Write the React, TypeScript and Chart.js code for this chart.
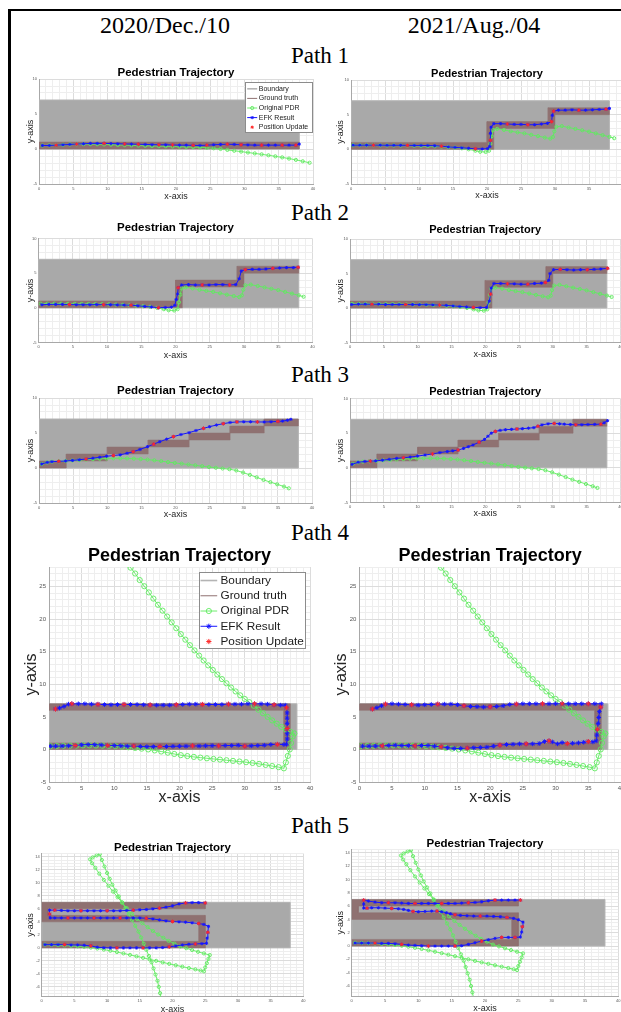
import React, { useEffect, useRef } from "react";
import { Chart, registerables } from "chart.js";

Chart.register(...registerables);
Chart.defaults.font.family = '"Liberation Sans", Arial, Helvetica, sans-serif';

type Pt = [number, number];

// ---------------- text ----------------
const DATE_LABELS = ["2020/Dec./10", "2021/Aug./04"];
const PATH_LABELS = ["Path 1", "Path 2", "Path 3", "Path 4", "Path 5"];
const CHART_TITLE = "Pedestrian Trajectory";
const X_TITLE = "x-axis";
const Y_TITLE = "y-axis";
const LEGEND_LABELS = ["Boundary", "Ground truth", "Original PDR", "EFK Result", "Position Update"];

// ---------------- axis ranges ----------------
const X_RANGE: Pt = [0, 40];
const Y_RANGE_STD: Pt = [-5, 10];
const Y_RANGE_P4: Pt = [-5, 28];
const Y_RANGE_P5: Pt = [-7.5, 14.5];

// ---------------- boundary / ground truth polygons ----------------
const BOUNDARY: Pt[] = [[0, 0], [38, 0], [38, 7], [0, 7], [0, 0]];
const GT_STRAIGHT: Pt[] = [[0, 0], [38, 0], [38, 1], [0, 1], [0, 0]];
const GT_STAIRS: Pt[] = [[0, 0], [21, 0], [21, 3], [30, 3], [30, 5], [38, 5], [38, 6], [29, 6], [29, 4], [20, 4], [20, 1], [0, 1], [0, 0]];
const GT_STEPS: Pt[] = [[0, 0], [4, 0], [4, 1], [10, 1], [10, 2], [16, 2], [16, 3], [22, 3], [22, 4], [28, 4], [28, 5], [33, 5], [33, 6], [38, 6], [38, 7], [33, 7], [33, 6], [28, 6], [28, 5], [22, 5], [22, 4], [16, 4], [16, 3], [10, 3], [10, 2], [4, 2], [4, 1], [0, 1], [0, 0]];
const GT_LOOP: Pt[] = [[0, 0], [37, 0], [37, 7], [0, 7], [0, 6], [36, 6], [36, 1], [0, 1], [0, 0]];
const GT_SNAKE: Pt[] = [[0, 7], [25, 7], [25, 6], [1, 6], [1, 5], [25, 5], [25, 0], [0, 0], [0, 1], [24, 1], [24, 4], [0, 4], [0, 7]];

// ---------------- Original PDR ----------------
const PDR_1L: Pt[] = [[0.5, 0.5], [1.5, 0.52], [2.5, 0.55], [3.5, 0.6], [4.5, 0.65], [5.5, 0.68], [6.5, 0.7], [7.5, 0.7], [8.5, 0.68], [9.5, 0.65], [10.5, 0.62], [11.5, 0.58], [12.5, 0.55], [13.5, 0.52], [14.5, 0.49], [15.5, 0.46], [16.5, 0.43], [17.5, 0.41], [18.5, 0.39], [19.5, 0.36], [20.5, 0.33], [21.5, 0.3], [22.5, 0.27], [23.5, 0.24], [24.5, 0.18], [25.5, 0.1], [26.5, 0.0], [27.5, -0.13], [28.5, -0.25], [29.5, -0.37], [30.5, -0.5], [31.5, -0.63], [32.5, -0.76], [33.5, -0.9], [34.5, -1.05], [35.5, -1.2], [36.5, -1.37], [37.5, -1.55], [38.5, -1.75], [39.5, -1.97]];
const PDR_STAIRS: Pt[] = [[0.3, 0.6], [1.3, 0.6], [2.3, 0.6], [3.3, 0.6], [4.3, 0.58], [5.3, 0.57], [6.3, 0.56], [7.3, 0.55], [8.3, 0.54], [9.3, 0.52], [10.3, 0.5], [11.3, 0.47], [12.3, 0.43], [13.3, 0.38], [14.3, 0.32], [15.3, 0.25], [16.3, 0.15], [17.3, 0.0], [18.3, -0.2], [19.0, -0.35], [19.8, -0.38], [20.3, -0.2], [20.5, 0.8], [20.7, 1.9], [20.9, 2.8], [21.5, 2.95], [22.5, 2.8], [23.5, 2.6], [24.5, 2.45], [25.5, 2.3], [26.5, 2.1], [27.5, 1.9], [28.5, 1.7], [29.3, 1.55], [29.7, 1.8], [29.9, 2.6], [30.2, 3.25], [31.0, 3.35], [32.0, 3.15], [33.0, 2.95], [34.0, 2.75], [35.0, 2.55], [36.0, 2.3], [37.0, 2.05], [38.0, 1.8], [38.7, 1.6]];
const PDR_STEPS: Pt[] = [[0.4, 0.57], [1.2, 0.8], [1.9, 0.9], [2.9, 0.95], [3.9, 1.0], [4.9, 1.07], [5.9, 1.13], [6.9, 1.2], [7.9, 1.26], [8.9, 1.32], [9.9, 1.36], [10.9, 1.38], [11.9, 1.38], [12.9, 1.37], [13.9, 1.33], [14.9, 1.27], [15.9, 1.2], [16.9, 1.1], [17.9, 0.98], [18.9, 0.85], [19.9, 0.73], [20.9, 0.62], [21.9, 0.5], [22.9, 0.38], [23.9, 0.26], [24.9, 0.14], [25.9, 0.03], [26.9, -0.07], [27.9, -0.17], [28.9, -0.35], [29.9, -0.65], [30.9, -0.98], [31.9, -1.33], [32.9, -1.7], [33.9, -2.02], [34.9, -2.33], [35.9, -2.65], [36.6, -2.9]];
const PDR_LOOP: Pt[] = [[0.2, 0.5], [1.2, 0.52], [2.2, 0.55], [3.2, 0.58], [4.2, 0.6], [5.2, 0.62], [6.2, 0.62], [7.2, 0.6], [8.2, 0.58], [9.2, 0.55], [10.2, 0.5], [11.2, 0.42], [12.2, 0.33], [13.2, 0.23], [14.2, 0.12], [15.2, 0.0], [16.2, -0.15], [17.2, -0.32], [18.2, -0.5], [19.2, -0.7], [20.2, -0.88], [21.2, -1.02], [22.2, -1.15], [23.2, -1.26], [24.2, -1.36], [25.2, -1.46], [26.2, -1.56], [27.2, -1.66], [28.2, -1.76], [29.2, -1.86], [30.2, -1.96], [31.2, -2.08], [32.2, -2.22], [33.2, -2.38], [34.2, -2.55], [35.2, -2.72], [36.0, -2.9], [36.3, -2.0], [36.6, -1.0], [36.9, 0.0], [37.1, 1.0], [37.35, 2.0], [37.6, 2.45], [37.0, 2.7], [36.3, 3.05], [35.6, 3.45], [34.9, 3.95], [34.2, 4.45], [33.5, 5.0], [32.8, 5.55], [32.1, 6.1], [31.4, 6.7], [30.7, 7.25], [30.0, 7.75], [29.3, 8.3], [28.6, 8.9], [27.9, 9.5], [27.2, 10.15], [26.5, 10.8], [25.8, 11.5], [25.1, 12.2], [24.4, 12.9], [23.7, 13.65], [23.0, 14.4], [22.3, 15.2], [21.6, 16.0], [20.9, 16.85], [20.2, 17.7], [19.5, 18.6], [18.8, 19.5], [18.1, 20.4], [17.4, 21.3], [16.7, 22.2], [16.0, 23.15], [15.3, 24.1], [14.6, 25.05], [13.9, 26.0], [13.2, 27.0], [12.5, 27.9], [12.2, 28.4]];
const PDR_SNAKE: Pt[] = [[0.5, 0.5], [1.5, 0.47], [2.5, 0.43], [3.5, 0.38], [4.5, 0.32], [5.5, 0.24], [6.5, 0.15], [7.5, 0.04], [8.5, -0.1], [9.5, -0.26], [10.5, -0.44], [11.5, -0.64], [12.5, -0.85], [13.5, -1.07], [14.5, -1.3], [15.5, -1.53], [16.5, -1.76], [17.5, -1.99], [18.5, -2.22], [19.5, -2.45], [20.5, -2.67], [21.5, -2.89], [22.5, -3.1], [23.5, -3.3], [24.3, -3.48], [24.8, -3.6], [25.0, -3.0], [25.25, -2.35], [25.5, -1.7], [25.7, -1.1], [24.8, -0.85], [23.9, -0.6], [23.0, -0.33], [22.1, -0.05], [21.2, 0.22], [20.3, 0.65], [19.4, 1.08], [18.6, 1.55], [17.8, 2.05], [17.0, 2.6], [16.2, 3.18], [15.4, 3.78], [14.6, 4.45], [13.8, 5.25], [13.0, 6.1], [12.3, 6.95], [11.6, 7.8], [10.9, 8.65], [10.2, 9.55], [9.5, 10.45], [8.8, 11.4], [8.2, 12.3], [7.7, 13.0], [7.4, 13.6], [7.8, 13.9], [8.4, 14.2], [8.9, 14.4], [9.2, 13.5], [9.6, 12.5], [10.0, 11.5], [10.4, 10.6], [10.8, 9.7], [11.3, 8.8], [11.8, 7.9], [12.3, 7.0], [12.8, 6.1], [13.3, 5.2], [13.8, 4.3], [14.3, 3.4], [14.8, 2.5], [15.2, 1.6], [15.6, 0.65], [16.0, -0.3], [16.4, -1.25], [16.8, -2.2], [17.1, -3.15], [17.4, -4.1], [17.7, -5.05], [17.9, -6.0], [18.1, -6.95], [18.3, -7.9]];

// ---------------- EFK results ----------------
const EFK_1L: Pt[] = [[0.5, 0.5], [1.5, 0.5], [2.5, 0.55], [3.5, 0.6], [4.5, 0.65], [5.5, 0.7], [6.5, 0.75], [7.5, 0.8], [8.5, 0.8], [9.5, 0.8], [10.5, 0.78], [11.5, 0.75], [12.5, 0.72], [13.5, 0.7], [14.5, 0.68], [15.5, 0.65], [16.5, 0.62], [17.5, 0.6], [18.5, 0.6], [19.5, 0.58], [20.5, 0.55], [21.5, 0.55], [22.5, 0.52], [23.5, 0.5], [24.5, 0.55], [25.5, 0.6], [26.5, 0.65], [27.5, 0.68], [28.5, 0.65], [29.5, 0.6], [30.5, 0.58], [31.5, 0.55], [32.5, 0.55], [33.5, 0.55], [34.5, 0.55], [35.5, 0.55], [36.5, 0.55], [37.5, 0.55], [38, 0.7]];
const EFK_1R: Pt[] = [[0.3, 0.6], [1.3, 0.6], [2.3, 0.6], [3.3, 0.6], [4.3, 0.6], [5.3, 0.58], [6.3, 0.58], [7.3, 0.58], [8.3, 0.57], [9.3, 0.56], [10.3, 0.56], [11.3, 0.55], [12.3, 0.52], [13.3, 0.45], [14.3, 0.35], [15.3, 0.28], [16.3, 0.22], [17.3, 0.15], [18.3, 0.08], [19.3, 0.05], [20.1, 0.1], [20.4, 0.4], [20.5, 1.3], [20.5, 2.3], [20.6, 3.2], [21.0, 3.7], [22.0, 3.7], [23.0, 3.65], [24.0, 3.6], [25.0, 3.6], [26.0, 3.55], [27.0, 3.55], [28.0, 3.65], [28.9, 3.75], [29.5, 4.0], [29.6, 4.9], [29.8, 5.5], [30.5, 5.65], [31.5, 5.65], [32.5, 5.7], [33.5, 5.65], [34.5, 5.65], [35.5, 5.7], [36.5, 5.75], [37.5, 5.8], [38, 5.9]];
const EFK_2L: Pt[] = [[0.5, 0.45], [1.5, 0.5], [2.5, 0.5], [3.5, 0.5], [4.5, 0.48], [5.5, 0.45], [6.5, 0.45], [7.5, 0.45], [8.5, 0.47], [9.5, 0.45], [10.5, 0.45], [11.5, 0.42], [12.5, 0.4], [13.5, 0.38], [14.5, 0.3], [15.5, 0.2], [16.5, 0.12], [17.5, 0.02], [18.5, 0.05], [19.4, 0.1], [19.9, 0.35], [20.1, 1.2], [20.3, 2.0], [20.4, 2.9], [20.9, 3.3], [21.9, 3.35], [22.9, 3.3], [23.9, 3.3], [24.9, 3.3], [25.9, 3.35], [26.9, 3.35], [27.9, 3.3], [28.8, 3.35], [29.3, 4.2], [29.6, 5.3], [30.2, 5.5], [31.2, 5.55], [32.2, 5.55], [33.2, 5.6], [34.2, 5.7], [35.2, 5.75], [36.2, 5.8], [37.2, 5.8], [37.9, 5.85]];
const EFK_2R: Pt[] = [[0.25, 0.5], [1.25, 0.55], [2.25, 0.55], [3.25, 0.55], [4.25, 0.55], [5.25, 0.5], [6.25, 0.5], [7.25, 0.5], [8.25, 0.5], [9.25, 0.5], [10.25, 0.48], [11.25, 0.48], [12.25, 0.45], [13.25, 0.42], [14.25, 0.38], [15.25, 0.3], [16.25, 0.22], [17.25, 0.15], [18.25, 0.08], [19.25, 0.05], [20.2, 0.08], [20.6, 1.0], [20.8, 2.0], [20.9, 2.9], [21.3, 3.55], [22.3, 3.55], [23.3, 3.5], [24.3, 3.5], [25.3, 3.45], [26.3, 3.45], [27.3, 3.55], [28.3, 3.6], [28.9, 3.7], [29.4, 4.0], [29.6, 5.0], [30.1, 5.55], [31.1, 5.6], [32.1, 5.55], [33.1, 5.5], [34.1, 5.55], [35.1, 5.55], [36.1, 5.6], [37.1, 5.65], [38.1, 5.75]];
const EFK_3L: Pt[] = [[0.4, 0.57], [1.2, 0.8], [1.9, 0.9], [2.9, 0.95], [3.9, 1.0], [4.9, 1.08], [5.9, 1.18], [6.9, 1.28], [7.9, 1.4], [8.9, 1.53], [9.9, 1.68], [10.9, 1.78], [11.9, 1.88], [12.9, 2.1], [13.8, 2.33], [14.8, 2.65], [15.9, 3.05], [16.8, 3.4], [17.7, 3.76], [18.7, 4.12], [19.7, 4.48], [20.8, 4.78], [22.0, 5.05], [23.0, 5.35], [24.1, 5.67], [25.0, 5.9], [26.0, 6.14], [27.0, 6.33], [28.0, 6.5], [29.0, 6.58], [30.0, 6.6], [31.0, 6.6], [32.0, 6.58], [33.0, 6.57], [34.0, 6.6], [35.0, 6.65], [35.7, 6.7], [36.4, 6.82], [36.9, 6.95]];
const EFK_3R: Pt[] = [[0.3, 0.5], [1.2, 0.8], [2.2, 0.92], [3.0, 0.97], [3.8, 1.0], [4.8, 1.1], [5.8, 1.22], [6.9, 1.36], [7.9, 1.45], [8.9, 1.55], [10.0, 1.7], [11.1, 1.85], [12.2, 2.0], [13.3, 2.2], [14.4, 2.35], [15.2, 2.45], [16.0, 2.57], [16.8, 2.8], [17.5, 3.05], [18.2, 3.3], [19.1, 3.7], [19.9, 4.1], [20.4, 4.55], [20.9, 5.0], [21.5, 5.25], [22.2, 5.4], [23.0, 5.5], [23.9, 5.55], [24.7, 5.6], [25.5, 5.65], [26.4, 5.72], [27.2, 5.8], [27.8, 6.0], [28.4, 6.2], [29.3, 6.35], [30.2, 6.4], [31.0, 6.35], [31.7, 6.3], [32.6, 6.25], [33.4, 6.2], [34.3, 6.22], [35.2, 6.25], [36.2, 6.27], [37.1, 6.3], [37.6, 6.5], [38.1, 6.8]];
const EFK_4L: Pt[] = [[0.2, 0.5], [1, 0.5], [2, 0.52], [3, 0.55], [4, 0.6], [5, 0.7], [6, 0.75], [7, 0.72], [8, 0.68], [9, 0.62], [10, 0.6], [11, 0.55], [12, 0.5], [13, 0.52], [14, 0.45], [15, 0.42], [16, 0.42], [17, 0.45], [18, 0.45], [19, 0.48], [20, 0.5], [21, 0.5], [22, 0.55], [23, 0.52], [24, 0.55], [25, 0.58], [26, 0.55], [27, 0.6], [28, 0.6], [29, 0.65], [30, 0.5], [31, 0.55], [32, 0.6], [33, 0.65], [34, 0.75], [35, 0.78], [36, 0.75], [36.4, 0.8], [36.5, 1.6], [36.5, 2.4], [36.5, 3.2], [36.5, 4.0], [36.5, 4.8], [36.5, 5.6], [36.4, 6.4], [36.2, 6.8], [35.5, 6.8], [34.5, 6.85], [33.5, 6.95], [32.5, 7.0], [31.5, 7.0], [30.5, 7.0], [29.5, 6.95], [28.5, 6.95], [27.5, 6.95], [26.5, 6.9], [25.5, 6.9], [24.5, 6.9], [23.5, 6.9], [22.5, 6.95], [21.5, 6.95], [20.5, 6.9], [19.5, 6.85], [18.5, 6.8], [17.5, 6.8], [16.5, 6.8], [15.5, 6.82], [14.5, 6.85], [13.5, 6.9], [12.5, 6.9], [11.5, 6.9], [10.5, 6.88], [9.5, 6.85], [8.5, 6.88], [7.5, 6.92], [6.5, 6.95], [5.5, 7.0], [4.5, 7.0], [3.5, 7.0], [3, 6.95], [2.3, 6.6], [1.6, 6.35], [1, 6.2]];
const EFK_4R: Pt[] = [[0.5, 0.5], [1.5, 0.5], [2.5, 0.52], [3.5, 0.55], [4.5, 0.6], [5.5, 0.65], [6.5, 0.6], [7.5, 0.58], [8.5, 0.55], [9.5, 0.6], [10.5, 0.6], [11.5, 0.5], [12.5, 0.4], [13.5, 0.25], [14.5, 0.15], [15.5, 0.15], [16.5, 0.2], [17.5, 0.25], [18.5, 0.3], [19.5, 0.35], [20.5, 0.5], [21.5, 0.65], [22.5, 0.75], [23.5, 0.8], [24.5, 0.85], [25.5, 0.85], [26.5, 0.85], [27.5, 0.9], [28.3, 1.2], [29, 1.3], [29.5, 1.15], [30.3, 0.85], [31, 1.05], [31.8, 0.9], [32.6, 0.95], [33.5, 1.0], [34.3, 1.1], [35, 1.2], [35.7, 1.15], [36.2, 1.3], [36.3, 2.2], [36.4, 3.1], [36.5, 4.0], [36.6, 4.9], [36.7, 5.8], [36.9, 6.5], [37, 7.0], [36, 7.0], [35, 7.0], [34, 7.0], [33, 7.0], [32, 7.0], [31, 7.0], [30, 7.0], [29, 7.0], [28, 7.0], [27, 7.0], [26, 7.0], [25, 7.0], [24, 6.95], [23, 6.9], [22, 6.7], [21, 6.6], [20, 6.55], [19, 6.5], [18, 6.55], [17, 6.6], [16, 6.7], [15, 6.85], [14, 6.95], [13, 6.95], [12, 6.95], [11, 6.9], [10, 6.85], [9, 6.8], [8, 6.85], [7, 6.9], [6, 6.95], [5, 7.0], [4, 6.95], [3.4, 6.7], [2.7, 6.4], [2, 6.2]];
const EFK_5L: Pt[] = [[0.5, 0.5], [1.5, 0.5], [2.5, 0.5], [3.5, 0.5], [4.5, 0.45], [5.5, 0.45], [6.5, 0.4], [7.5, 0.3], [8.5, 0.1], [9.5, 0.02], [10.5, 0.0], [11.5, 0.0], [12.5, 0.0], [13.5, 0.0], [14.5, 0.0], [15.5, 0.0], [16.5, 0.0], [17.5, 0.0], [18.5, 0.05], [19.5, 0.15], [20.5, 0.3], [21.5, 0.45], [22.5, 0.55], [23.5, 0.6], [24.5, 0.65], [25.2, 0.7], [25.3, 1.5], [25.4, 2.4], [25.5, 3.3], [24.8, 3.6], [24, 3.75], [23, 3.85], [22, 3.95], [21, 4.0], [20, 4.05], [19, 4.15], [18, 4.3], [17, 4.45], [16, 4.55], [15, 4.6], [14, 4.6], [13, 4.6], [12, 4.6], [11, 4.6], [10, 4.6], [9, 4.6], [8, 4.6], [7, 4.6], [6, 4.6], [5, 4.6], [4, 4.6], [3, 4.6], [2, 4.6], [1.3, 4.6], [1.2, 5.2], [1.2, 5.8], [2, 5.8], [3, 5.75], [4, 5.7], [5, 5.7], [6, 5.7], [7, 5.7], [8, 5.7], [9, 5.7], [10, 5.7], [11, 5.7], [12, 5.7], [13, 5.75], [14, 5.8], [15, 5.85], [16, 5.9], [17, 6.0], [18, 6.1], [19, 6.25], [20, 6.45], [21, 6.75], [22, 6.9], [23, 6.95], [24, 6.95], [25, 6.9]];
const EFK_5R: Pt[] = [[0.5, 0.45], [1.5, 0.45], [2.5, 0.45], [3.5, 0.45], [4.5, 0.4], [5.5, 0.4], [6.5, 0.35], [7.5, 0.25], [8.5, 0.15], [9.5, 0.1], [10.5, 0.05], [11.5, 0.0], [12.5, 0.0], [13.5, 0.0], [14.5, 0.0], [15.5, 0.0], [16.5, 0.05], [17.5, 0.25], [18.5, 0.5], [19.5, 0.75], [20.5, 0.95], [21.5, 1.15], [22.5, 1.3], [23.5, 1.3], [24.5, 1.3], [25.3, 1.35], [25.5, 2.1], [25.6, 2.9], [25.7, 3.6], [25, 3.95], [24.3, 4.15], [23.3, 4.3], [22.3, 4.4], [21.3, 4.45], [20.3, 4.5], [19.3, 4.5], [18.3, 4.5], [17.3, 4.55], [16.3, 4.6], [15.5, 4.7], [14.8, 4.85], [14.2, 5.0], [13.5, 5.15], [12.8, 5.25], [12, 5.25], [11, 5.2], [10, 5.15], [9.2, 5.2], [8.5, 5.35], [7.8, 5.5], [7, 5.6], [6, 5.65], [5, 5.7], [4, 5.75], [3, 5.75], [2.3, 5.7], [1.8, 5.7], [1.8, 6.3], [1.8, 6.9], [2.5, 6.75], [3.5, 6.6], [4.5, 6.5], [5.5, 6.5], [6.5, 6.5], [7.5, 6.45], [8.5, 6.4], [9.5, 6.4], [10.5, 6.4], [11.5, 6.4], [12.5, 6.4], [13.5, 6.4], [14.5, 6.4], [15.5, 6.4], [16.5, 6.45], [17.5, 6.5], [18.5, 6.55], [19.5, 6.65], [20.5, 6.8], [21.5, 6.9], [22.5, 6.9], [23.5, 6.9], [24.5, 6.9], [25.3, 6.9]];

// ---------------- Position updates (indices of EFK samples that are updates) ----------------
const UPD_1L = [2, 5, 9, 12, 14, 17, 19, 22, 24, 27, 29, 32, 35, 37];
const UPD_1R = [3, 8, 13, 18, 22, 27, 30, 34, 36, 40, 44];
const UPD_2L = [4, 9, 13, 17, 23, 27, 31, 35, 39, 43];
const UPD_2R = [3, 8, 13, 18, 22, 26, 29, 32, 36, 40, 43];
const UPD_3L = [3, 7, 11, 14, 17, 20, 24, 27, 29, 32, 35];
const UPD_3R = [3, 8, 12, 16, 20, 24, 28, 32, 35, 39, 43];
const UPD_4L = [4, 9, 13, 17, 22, 26, 30, 35, 40, 44, 47, 50, 54, 58, 62, 66, 70, 74, 78, 82];
const UPD_4R = [3, 8, 12, 16, 21, 25, 29, 33, 37, 41, 45, 48, 52, 55, 59, 63, 67, 71, 75, 79, 82];
const UPD_5L = [3, 7, 11, 15, 19, 23, 27, 30, 34, 38, 42, 46, 50, 54, 56, 60, 64, 68, 72, 76, 79];
const UPD_5R = [3, 7, 11, 15, 19, 22, 24, 27, 31, 35, 39, 43, 47, 51, 55, 58, 62, 66, 70, 74, 78, 82];

// ---------------- styles ----------------
const GRAY_FILL = "#a9a9a9";
const GRAY_EDGE = "#b4b4b4";
const BROWN = "#8f7171";
const GREEN = "rgba(95,235,95,0.9)";
const BLUE = "#1616ff";
const RED = "#ff2a2a";
const GRID_MAJOR = "#dcdcdc";
const GRID_MINOR = "#eeeeee";
const TITLE_PAD_TOP = 2;
const PAD_R = 8;

type LegendSpec = { x: number; y: number; w: number; h: number; fs: number; row: number; padTop: number; s0: number; s1: number; tx: number; mr: number };

type PanelSpec = {
  truth: Pt[]; pdr: Pt[]; efk: Pt[]; upd: number[];
  yRange: Pt; yStep: number; yEvery: number;
  plot: [number, number, number, number];
  titleY: number; titleFs: number; yLabX: number; xLabY: number; labelFs: number; tickFs: number;
  big?: boolean; legend?: LegendSpec;
};

const SMALL = { labelFs: 9, tickFs: 4 };
const LEG_SMALL: LegendSpec = { x: 206, y: 3, w: 67, h: 50, fs: 7, row: 9.6, padTop: 1.5, s0: 1.7, s1: 11.7, tx: 13.3, mr: 1.6 };
const LEG_BIG: LegendSpec = { x: 150, y: 5, w: 106, h: 76, fs: 11.8, row: 15.25, padTop: 0.4, s0: 1, s1: 17.7, tx: 21, mr: 2.6 };

const PANELS: PanelSpec[] = [
  { truth: GT_STRAIGHT, pdr: PDR_1L, efk: EFK_1L, upd: UPD_1L, yRange: Y_RANGE_STD, yStep: 1, yEvery: 5, plot: [39, 79, 313, 184], titleY: 72.5, titleFs: 11.5, yLabX: 30, xLabY: 197, ...SMALL, legend: LEG_SMALL },
  { truth: GT_STAIRS, pdr: PDR_STAIRS, efk: EFK_1R, upd: UPD_1R, yRange: Y_RANGE_STD, yStep: 1, yEvery: 5, plot: [351, 80, 623, 184], titleY: 73.5, titleFs: 11, yLabX: 340, xLabY: 196, ...SMALL },
  { truth: GT_STAIRS, pdr: PDR_STAIRS, efk: EFK_2L, upd: UPD_2L, yRange: Y_RANGE_STD, yStep: 1, yEvery: 5, plot: [38.5, 238.5, 312.5, 342.5], titleY: 228, titleFs: 11.5, yLabX: 30, xLabY: 356, ...SMALL },
  { truth: GT_STAIRS, pdr: PDR_STAIRS, efk: EFK_2R, upd: UPD_2R, yRange: Y_RANGE_STD, yStep: 1, yEvery: 5, plot: [350, 239, 620.4, 342.5], titleY: 229, titleFs: 11, yLabX: 340, xLabY: 355, ...SMALL },
  { truth: GT_STEPS, pdr: PDR_STEPS, efk: EFK_3L, upd: UPD_3L, yRange: Y_RANGE_STD, yStep: 1, yEvery: 5, plot: [39, 398, 312, 503], titleY: 391, titleFs: 11.5, yLabX: 30, xLabY: 515, ...SMALL },
  { truth: GT_STEPS, pdr: PDR_STEPS, efk: EFK_3R, upd: UPD_3R, yRange: Y_RANGE_STD, yStep: 1, yEvery: 5, plot: [350, 398.5, 620.4, 502.5], titleY: 391, titleFs: 11, yLabX: 340, xLabY: 514, ...SMALL },
  { truth: GT_LOOP, pdr: PDR_LOOP, efk: EFK_4L, upd: UPD_4L, yRange: Y_RANGE_P4, yStep: 1, yEvery: 5, plot: [49, 567, 310, 782], titleY: 556, titleFs: 18, yLabX: 32, xLabY: 797, labelFs: 16, tickFs: 6, big: true, legend: LEG_BIG },
  { truth: GT_LOOP, pdr: PDR_LOOP, efk: EFK_4R, upd: UPD_4R, yRange: Y_RANGE_P4, yStep: 1, yEvery: 5, plot: [359.3, 567, 621, 782], titleY: 556, titleFs: 18, yLabX: 341.7, xLabY: 797, labelFs: 16, tickFs: 6, big: true },
  { truth: GT_SNAKE, pdr: PDR_SNAKE, efk: EFK_5L, upd: UPD_5L, yRange: Y_RANGE_P5, yStep: 0.5, yEvery: 2, plot: [41.7, 853.5, 303.3, 996.7], titleY: 848, titleFs: 11.5, yLabX: 30, xLabY: 1010, ...SMALL },
  { truth: GT_SNAKE, pdr: PDR_SNAKE, efk: EFK_5R, upd: UPD_5R, yRange: Y_RANGE_P5, yStep: 0.5, yEvery: 2, plot: [351.7, 849.3, 618.3, 996], titleY: 843.3, titleFs: 11.5, yLabX: 340, xLabY: 1009, ...SMALL },
];

const xy = (pts: Pt[]) => pts.map(([x, y]) => ({ x, y }));

function computeGeo(s: PanelSpec) {
  const [pl, pt, pr, pb] = s.plot;
  const labelLh = s.labelFs * 1.2;
  const left = Math.round(s.yLabX - labelLh / 2);
  const top = Math.round(s.titleY - TITLE_PAD_TOP - s.titleFs / 2);
  const bottom = Math.round(s.xLabY + labelLh / 2);
  const w = Math.ceil(pr + PAD_R - left);
  return {
    left, top, w, h: bottom - top,
    padL: pl - left,
    padB: bottom - pb,
    padRight: w - (pr - left),
    titleBottom: Math.max(0, pt - top - TITLE_PAD_TOP - s.titleFs),
  };
}

function drawMarker(ctx: CanvasRenderingContext2D, style: string, x: number, y: number, r: number, color: string) {
  ctx.strokeStyle = color;
  ctx.lineWidth = 1;
  ctx.beginPath();
  if (style === "circle") {
    ctx.arc(x, y, r, 0, Math.PI * 2);
  } else {
    const d = r * 0.7;
    ctx.moveTo(x - r, y); ctx.lineTo(x + r, y);
    ctx.moveTo(x, y - r); ctx.lineTo(x, y + r);
    ctx.moveTo(x - d, y - d); ctx.lineTo(x + d, y + d);
    ctx.moveTo(x - d, y + d); ctx.lineTo(x + d, y - d);
  }
  ctx.stroke();
}

function legendPlugin(L: LegendSpec) {
  return {
    id: "insideLegend",
    afterDraw(chart: any) {
      const { ctx, chartArea } = chart;
      const x0 = Math.round(chartArea.left + L.x) + 0.5;
      const y0 = Math.round(chartArea.top + L.y) + 0.5;
      ctx.save();
      ctx.fillStyle = "#ffffff";
      ctx.fillRect(x0, y0, L.w, L.h);
      ctx.strokeStyle = "#8c8c8c";
      ctx.lineWidth = 1;
      ctx.strokeRect(x0, y0, L.w, L.h);
      ctx.font = `${L.fs}px "Liberation Sans", Arial, sans-serif`;
      ctx.textBaseline = "middle";
      ctx.textAlign = "left";
      LEGEND_LABELS.forEach((label, i) => {
        const ds = chart.data.datasets.find((d: any) => d.label === label);
        if (!ds) return;
        const cy = y0 + L.padTop + L.row * (i + 0.5);
        const a = x0 + L.s0, b = x0 + L.s1, m = (a + b) / 2;
        if (ds.showLine) {
          ctx.strokeStyle = ds.borderColor;
          ctx.lineWidth = label === "Boundary" ? 1.6 : 1;
          ctx.beginPath(); ctx.moveTo(a, cy); ctx.lineTo(b, cy); ctx.stroke();
        }
        if (ds.pointRadius > 0) drawMarker(ctx, ds.pointStyle, m, cy, L.mr, ds.pointBorderColor);
        ctx.fillStyle = "#1a1a1a";
        ctx.fillText(label, x0 + L.tx, cy);
      });
      ctx.restore();
    },
  };
}

function scaleOpts(range: Pt, step: number, every: number, title: string, s: PanelSpec, fit: (sc: any) => void) {
  const isMajor = (v: number) => Math.abs(v % every) < 1e-9;
  return {
    type: "linear",
    min: range[0],
    max: range[1],
    afterFit: fit,
    border: { display: true, color: "#a8a8a8", width: 1 },
    grid: {
      drawTicks: false,
      lineWidth: 1,
      color: (c: any) => (c.tick && isMajor(c.tick.value) ? GRID_MAJOR : GRID_MINOR),
    },
    ticks: {
      stepSize: step,
      autoSkip: false,
      maxRotation: 0,
      minRotation: 0,
      padding: s.big ? 3 : 2,
      color: "#555",
      font: { size: s.tickFs },
      callback: (v: any) => (isMajor(Number(v)) ? String(v) : ""),
    },
    title: {
      display: true,
      text: title,
      color: "#262626",
      padding: 0,
      font: { size: s.labelFs, lineHeight: 1.2 },
    },
  };
}

function buildConfig(s: PanelSpec) {
  const g = computeGeo(s);
  const mR = s.big ? 2.6 : 1.6;
  const sR = s.big ? 2.3 : 1.6;
  const uR = s.big ? 2.6 : 1.9;
  const datasets: any[] = [
    { label: LEGEND_LABELS[0], data: xy(BOUNDARY), showLine: true, fill: "shape", backgroundColor: GRAY_FILL, borderColor: GRAY_EDGE, borderWidth: 1, pointRadius: 0, order: 5 },
    { label: LEGEND_LABELS[1], data: xy(s.truth), showLine: true, fill: "shape", backgroundColor: BROWN, borderColor: BROWN, borderWidth: 0.5, pointRadius: 0, order: 4 },
    { label: LEGEND_LABELS[2], data: xy(s.pdr), showLine: true, fill: false, borderColor: GREEN, borderWidth: 1, pointStyle: "circle", pointRadius: mR, pointBorderColor: GREEN, pointBackgroundColor: "rgba(0,0,0,0)", pointBorderWidth: 1, order: 3 },
    { label: LEGEND_LABELS[3], data: xy(s.efk), showLine: true, fill: false, borderColor: BLUE, borderWidth: 1, pointStyle: "star", pointRadius: sR, pointBorderColor: BLUE, pointBackgroundColor: BLUE, pointBorderWidth: 1, order: 2 },
    { label: LEGEND_LABELS[4], data: xy(s.upd.filter((i) => i < s.efk.length).map((i) => s.efk[i])), showLine: false, fill: false, borderColor: RED, pointStyle: "star", pointRadius: uR, pointBorderColor: RED, pointBackgroundColor: RED, pointBorderWidth: 1, order: 1 },
  ];
  return {
    type: "scatter",
    data: { datasets },
    options: {
      responsive: false,
      animation: false,
      devicePixelRatio: 1,
      events: [],
      layout: { padding: { left: 0, top: 0, right: g.padRight, bottom: 0 } },
      elements: { line: { tension: 0 } },
      plugins: {
        legend: { display: false },
        tooltip: { enabled: false },
        title: {
          display: true,
          text: CHART_TITLE,
          fullSize: false,
          color: "#000",
          font: { size: s.titleFs, weight: "bold", lineHeight: 1 },
          padding: { top: TITLE_PAD_TOP, bottom: g.titleBottom },
        },
      },
      scales: {
        x: scaleOpts(X_RANGE, 1, 5, X_TITLE, s, (sc: any) => { sc.height = g.padB; }),
        y: scaleOpts(s.yRange, s.yStep, s.yEvery, Y_TITLE, s, (sc: any) => { sc.width = g.padL; }),
      },
    },
    plugins: s.legend ? [legendPlugin(s.legend)] : [],
  };
}

function Panel({ spec }: { spec: PanelSpec }) {
  const ref = useRef<HTMLCanvasElement>(null);
  const g = computeGeo(spec);
  useEffect(() => {
    if (!ref.current) return;
    const chart = new Chart(ref.current, buildConfig(spec) as any);
    return () => chart.destroy();
  }, [spec]);
  return (
    <canvas
      ref={ref}
      width={g.w}
      height={g.h}
      style={{ position: "absolute", left: g.left, top: g.top, width: g.w, height: g.h }}
    />
  );
}

const serif = '"Liberation Serif", "Times New Roman", Times, serif';

function Header({ text, cx, top, size }: { text: string; cx: number; top: number; size: number }) {
  return (
    <div
      style={{
        position: "absolute",
        left: cx - 120,
        width: 240,
        top,
        textAlign: "center",
        fontFamily: serif,
        fontSize: size,
        lineHeight: `${size}px`,
        color: "#000",
        whiteSpace: "nowrap",
      }}
    >
      {text}
    </div>
  );
}

const DATE_POS = [{ cx: 165, top: 13 }, { cx: 474, top: 13 }];
const PATH_POS = [{ top: 44 }, { top: 201 }, { top: 362.5 }, { top: 520.5 }, { top: 813.5 }];

export default function App() {
  return (
    <div style={{ position: "relative", width: 621, height: 1012, overflow: "hidden", background: "#fff" }}>
      <style>{"html,body{margin:0;padding:0;overflow:hidden;background:#fff}"}</style>
      <div style={{ position: "absolute", left: 8, top: 9, width: 613, height: 2, background: "#000" }} />
      <div style={{ position: "absolute", left: 8, top: 9, width: 3, height: 1003, background: "#000" }} />
      {DATE_LABELS.map((t, i) => (
        <Header key={t} text={t} cx={DATE_POS[i].cx} top={DATE_POS[i].top} size={24} />
      ))}
      {PATH_LABELS.map((t, i) => (
        <Header key={t} text={t} cx={320} top={PATH_POS[i].top} size={23} />
      ))}
      {PANELS.map((p, i) => (
        <Panel key={i} spec={p} />
      ))}
    </div>
  );
}
